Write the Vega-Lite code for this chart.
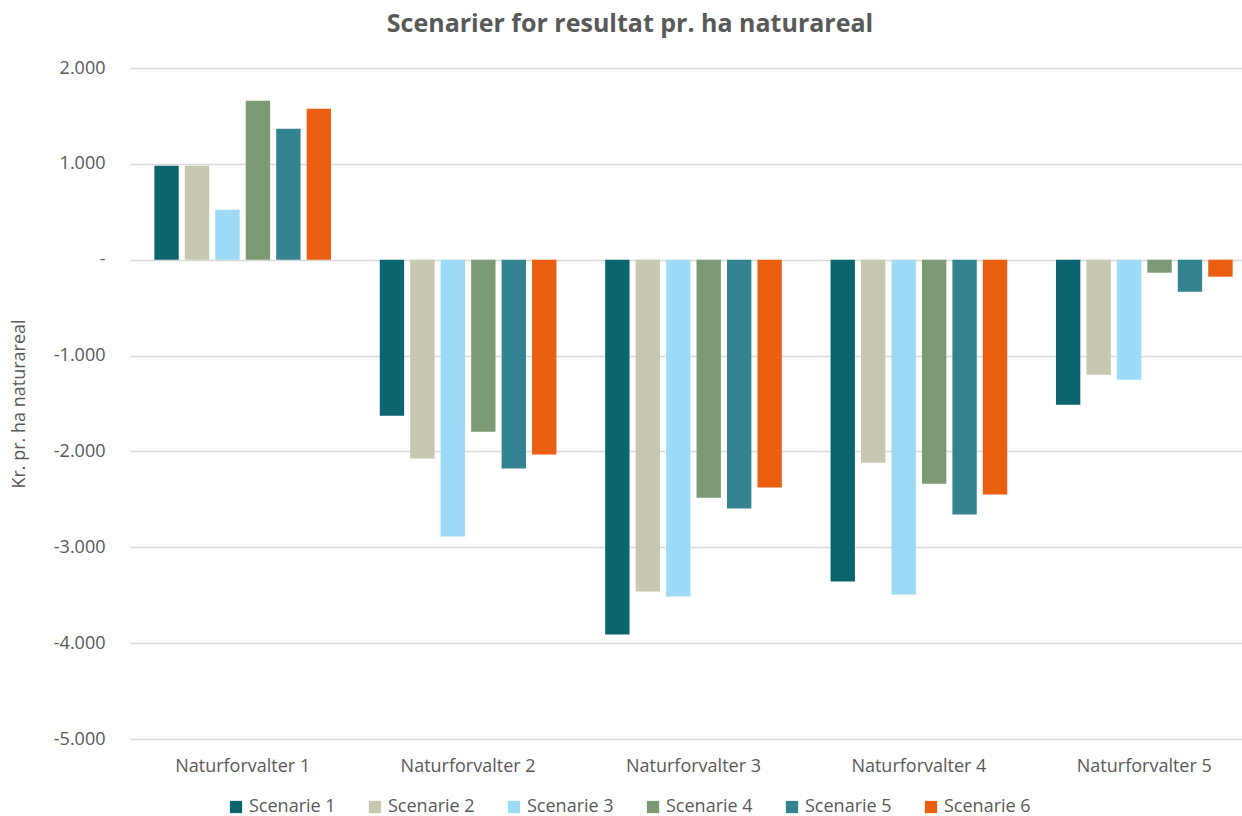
{
  "$schema": "https://vega.github.io/schema/vega-lite/v6.json",
  "autosize": "none",
  "width": 1110,
  "height": 671,
  "padding": {"left": 130, "top": 68, "right": 2, "bottom": 77},
  "background": "white",
  "title": {"text": "Scenarier for resultat pr. ha naturareal", "fontSize": 25, "font": "Open Sans", "fontWeight": "bold", "color": "#595959", "anchor": "middle", "dx": -55, "offset": 22},
  "config": {"view": {"stroke": null}, "font": "Open Sans"},
  "data": {"values": [
    {"g": "Naturforvalter 1", "s": "Scenarie 1", "v": 980},
    {"g": "Naturforvalter 1", "s": "Scenarie 2", "v": 980},
    {"g": "Naturforvalter 1", "s": "Scenarie 3", "v": 521},
    {"g": "Naturforvalter 1", "s": "Scenarie 4", "v": 1658},
    {"g": "Naturforvalter 1", "s": "Scenarie 5", "v": 1366},
    {"g": "Naturforvalter 1", "s": "Scenarie 6", "v": 1575},
    {"g": "Naturforvalter 2", "s": "Scenarie 1", "v": -1627},
    {"g": "Naturforvalter 2", "s": "Scenarie 2", "v": -2075},
    {"g": "Naturforvalter 2", "s": "Scenarie 3", "v": -2888},
    {"g": "Naturforvalter 2", "s": "Scenarie 4", "v": -1794},
    {"g": "Naturforvalter 2", "s": "Scenarie 5", "v": -2179},
    {"g": "Naturforvalter 2", "s": "Scenarie 6", "v": -2033},
    {"g": "Naturforvalter 3", "s": "Scenarie 1", "v": -3910},
    {"g": "Naturforvalter 3", "s": "Scenarie 2", "v": -3462},
    {"g": "Naturforvalter 3", "s": "Scenarie 3", "v": -3514},
    {"g": "Naturforvalter 3", "s": "Scenarie 4", "v": -2482},
    {"g": "Naturforvalter 3", "s": "Scenarie 5", "v": -2596},
    {"g": "Naturforvalter 3", "s": "Scenarie 6", "v": -2377},
    {"g": "Naturforvalter 4", "s": "Scenarie 1", "v": -3358},
    {"g": "Naturforvalter 4", "s": "Scenarie 2", "v": -2117},
    {"g": "Naturforvalter 4", "s": "Scenarie 3", "v": -3493},
    {"g": "Naturforvalter 4", "s": "Scenarie 4", "v": -2336},
    {"g": "Naturforvalter 4", "s": "Scenarie 5", "v": -2659},
    {"g": "Naturforvalter 4", "s": "Scenarie 6", "v": -2450},
    {"g": "Naturforvalter 5", "s": "Scenarie 1", "v": -1512},
    {"g": "Naturforvalter 5", "s": "Scenarie 2", "v": -1199},
    {"g": "Naturforvalter 5", "s": "Scenarie 3", "v": -1251},
    {"g": "Naturforvalter 5", "s": "Scenarie 4", "v": -136},
    {"g": "Naturforvalter 5", "s": "Scenarie 5", "v": -334},
    {"g": "Naturforvalter 5", "s": "Scenarie 6", "v": -177}
  ]},
  "mark": {"type": "bar"},
  "encoding": {
    "x": {"field": "g", "type": "nominal", "title": null,
      "scale": {"paddingInner": 0, "paddingOuter": 0, "range": [0, 1127]},
      "axis": {"labelAngle": 0, "labelFontSize": 18, "labelColor": "#595959", "domain": false, "ticks": false, "labelPadding": 18, "grid": false}},
    "xOffset": {"field": "s", "type": "nominal", "scale": {"paddingInner": 0.2, "paddingOuter": 0.8}},
    "y": {"field": "v", "type": "quantitative", "title": "Kr. pr. ha naturareal",
      "scale": {"domain": [-5000, 2000], "nice": false},
      "axis": {"values": [-5000, -4000, -3000, -2000, -1000, 0, 1000, 2000],
        "labelExpr": "datum.value == 0 ? '-' : replace(replace(format(datum.value, ',.0f'), ',', '.'), '\u2212', '-')",
        "labelFontSize": 18, "labelColor": "#595959", "domain": false, "ticks": false, "labelPadding": 25,
        "gridColor": "#d9d9d9", "gridWidth": 1.3,
        "titleFontSize": 18, "titleFontWeight": "normal", "titleColor": "#595959", "titlePadding": 25}},
    "color": {"field": "s", "type": "nominal", "title": null,
      "scale": {"domain": ["Scenarie 1", "Scenarie 2", "Scenarie 3", "Scenarie 4", "Scenarie 5", "Scenarie 6"],
        "range": ["#0b6470", "#c8c7b0", "#9cdaf5", "#7b9a74", "#348390", "#e95e0f"]},
      "legend": {"orient": "none", "legendX": 97, "legendY": 730, "direction": "horizontal", "symbolType": "square", "symbolSize": 150, "symbolStrokeWidth": 0,
        "labelFontSize": 18, "labelColor": "#595959", "columnPadding": 30, "labelOffset": 4}}
  }
}
